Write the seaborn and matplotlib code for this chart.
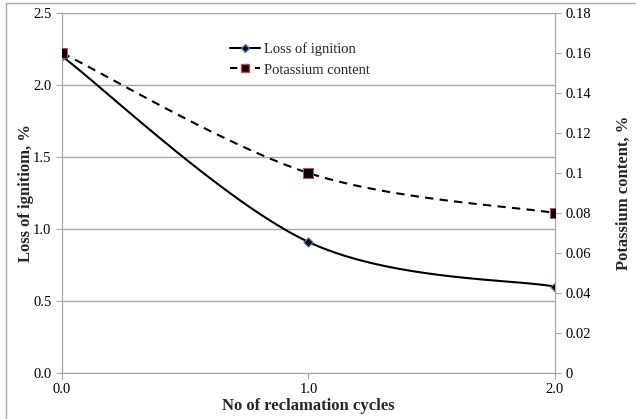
import numpy as np
import pandas as pd
import matplotlib
matplotlib.use("Agg")
import matplotlib.pyplot as plt
import seaborn as sns
from matplotlib.lines import Line2D

cycles = [0, 1, 2]
loss_ignition = [2.2, 0.91, 0.6]
potassium = [0.16, 0.10, 0.08]


def smooth(x, y, n=40):
    # Excel-style smoothed line (Catmull-Rom through the points)
    x = np.asarray(x, float)
    y = np.asarray(y, float)
    px = np.concatenate([[x[0]], x, [x[-1]]])
    py = np.concatenate([[y[0]], y, [y[-1]]])
    xs, ys = [], []
    t = np.linspace(0, 1, n)
    for i in range(1, len(px) - 2):
        for p, out in ((px, xs), (py, ys)):
            p0, p1, p2, p3 = p[i - 1], p[i], p[i + 1], p[i + 2]
            c1 = p1 + (p2 - p0) / 6
            c2 = p2 - (p3 - p1) / 6
            out.extend((1 - t) ** 3 * p1 + 3 * (1 - t) ** 2 * t * c1
                       + 3 * (1 - t) * t ** 2 * c2 + t ** 3 * p2)
    return np.array(xs), np.array(ys)


sns.set_style("white")
plt.rcParams['font.family'] = ['Liberation Serif', 'DejaVu Serif']

fig = plt.figure(figsize=(6.36, 4.19), dpi=100)
ax = fig.add_axes([0.0975, 0.1098, 0.775, 0.8592])
ax2 = ax.twinx()

grid_c = '#a6a6a6'

# loss of ignition
sx, sy = smooth(cycles, loss_ignition)
ax.plot(sx, sy, color='black', lw=1.5, zorder=3)
sns.scatterplot(x=cycles, y=loss_ignition, ax=ax, marker='D', s=22,
                color='black', edgecolor='#4a7ebb', linewidth=0.8, zorder=4)

# potassium content
kx, ky = smooth(cycles, potassium)
ax2.plot(kx, ky, color='black', lw=1.5, ls=(0, (4, 3)), zorder=3)
sns.scatterplot(x=cycles, y=potassium, ax=ax2, marker='s', s=42,
                color='black', edgecolor='#c0504d', linewidth=0.8, zorder=4)

ax.set_xlim(0, 2)
ax.set_ylim(0, 2.5)
ax2.set_ylim(0, 0.18)
ax.set_xticks([0, 1, 2])
ax.set_xticklabels(['0.0', '1.0', '2.0'])
ax.set_yticks(np.arange(0, 2.51, 0.5))
ax.set_yticklabels(['0.0', '0.5', '1.0', '1.5', '2.0', '2.5'])
rt = np.arange(0, 0.181, 0.02)
ax2.set_yticks(rt)
ax2.set_yticklabels(['0', '0.02', '0.04', '0.06', '0.08', '0.1',
                     '0.12', '0.14', '0.16', '0.18'])

ax.grid(axis='y', color=grid_c, lw=1)
ax.set_axisbelow(True)
for a in (ax, ax2):
    for s in a.spines.values():
        s.set_color(grid_c)
    a.tick_params(colors='black', labelsize=10.5, length=4, color=grid_c,
                  direction='out')
ax.spines['top'].set_visible(False)
ax2.spines['top'].set_visible(False)
ax.tick_params(axis='y', left=True)
ax.tick_params(axis='x', bottom=True)
ax2.tick_params(axis='y', right=True)

ax.set_xlabel('No of reclamation cycles', fontsize=12, fontweight='bold',
              labelpad=1)
ax.set_ylabel('Loss of ignitiom, %', fontsize=12, fontweight='bold',
              labelpad=-1)
ax2.set_ylabel('Potassium content, %', fontsize=12, fontweight='bold',
               labelpad=18)

handles = [
    Line2D([], [], color='black', lw=1.5, marker='D', markersize=4,
           markerfacecolor='black', markeredgecolor='#4a7ebb'),
    Line2D([], [], color='black', lw=1.5, ls=(0, (3.5, 2.5)), marker='s',
           markersize=6, markerfacecolor='black', markeredgecolor='#c0504d'),
]
ax2.legend(handles, ['Loss of ignition', 'Potassium content'],
           loc='upper left', bbox_to_anchor=(0.315, 0.955), frameon=False,
           fontsize=10.5, handlelength=2.0, handletextpad=0.3,
           labelspacing=0.5)

# chart-area border (only the left and top edges are visible)
W, H = 636, 419
fig.add_artist(Line2D([6 / W, 6 / W], [0, 1 - 3 / H], color=grid_c, lw=1,
                      transform=fig.transFigure))
fig.add_artist(Line2D([6 / W, 1], [1 - 3 / H, 1 - 3 / H], color=grid_c, lw=1,
                      transform=fig.transFigure))

fig.savefig('out.png', dpi=100)
